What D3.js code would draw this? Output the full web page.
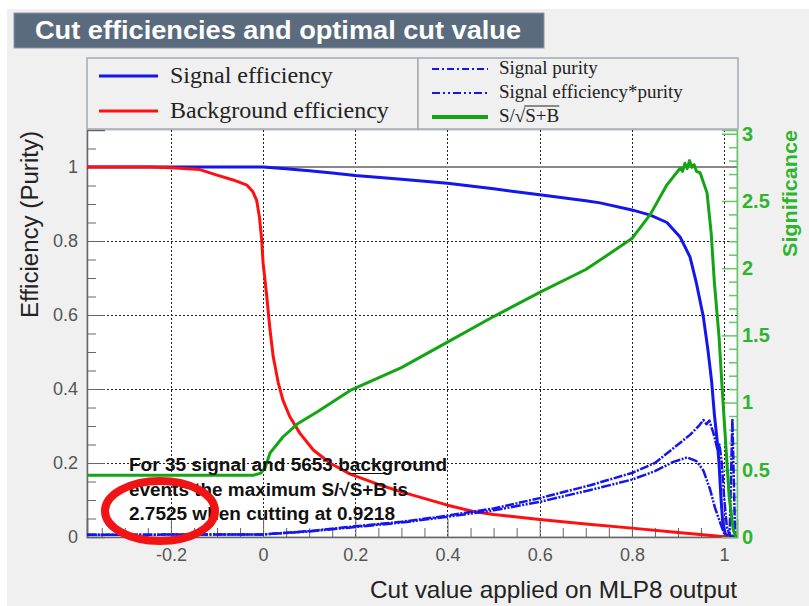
<!DOCTYPE html>
<html><head><meta charset="utf-8">
<script src="https://cdn.jsdelivr.net/npm/d3@7"></script>
<style>body{margin:0;background:#fff;}svg{display:block;}</style>
</head><body>
<script>
// ---- data ----
const xTicks = [-0.2, 0, 0.2, 0.4, 0.6, 0.8, 1];
const yTicks = [0, 0.2, 0.4, 0.6, 0.8, 1];
const sigTicks = [0, 0.5, 1, 1.5, 2, 2.5, 3];
const xTickLabels = ["-0.2", "0", "0.2", "0.4", "0.6", "0.8", "1"];
const yTickLabels = ["0", "0.2", "0.4", "0.6", "0.8", "1"];
const sigTickLabels = ["0", "0.5", "1", "1.5", "2", "2.5", "3"];

const signalEff = [[-0.382,1],[0,1],[0.05,0.995],[0.1,0.99],[0.15,0.984],[0.2,0.977],[0.3,0.967],[0.4,0.956],[0.5,0.941],[0.6,0.925],[0.7,0.909],[0.731,0.903],[0.8,0.884],[0.84,0.87],[0.876,0.85],[0.905,0.81],[0.926,0.757],[0.94,0.686],[0.955,0.595],[0.965,0.505],[0.973,0.42],[0.979,0.33],[0.985,0.26],[0.989,0.2],[0.993,0.11],[0.997,0.04],[1.003,0.006],[1.028,0]];
const backgroundEff = [[-0.382,1],[-0.245,1],[-0.2,0.998],[-0.137,0.993],[-0.1,0.978],[-0.065,0.965],[-0.035,0.951],[-0.022,0.933],[-0.014,0.91],[-0.008,0.865],[-0.003,0.803],[0,0.74],[0.008,0.65],[0.015,0.56],[0.022,0.487],[0.033,0.416],[0.043,0.37],[0.058,0.325],[0.08,0.28],[0.109,0.235],[0.145,0.2],[0.189,0.17],[0.25,0.142],[0.3,0.122],[0.4,0.086],[0.456,0.069],[0.5,0.061],[0.6,0.047],[0.7,0.035],[0.8,0.024],[0.9,0.012],[0.99,0.002],[1.028,0]];
const signalPurity = [[-0.382,0.006],[0,0.007],[0.1,0.016],[0.2,0.029],[0.3,0.041],[0.384,0.055],[0.5,0.077],[0.6,0.105],[0.71,0.14],[0.8,0.173],[0.85,0.2],[0.89,0.24],[0.926,0.276],[0.945,0.3],[0.955,0.316],[0.962,0.305],[0.968,0.315],[0.977,0.28],[0.985,0.24],[0.99,0.25],[0.995,0.2],[1.0,0.108],[1.006,0.027],[1.012,0.005],[1.018,0.32],[1.024,0]];
const effTimesPurity = [[-0.382,0.006],[0,0.007],[0.1,0.015],[0.2,0.027],[0.3,0.039],[0.384,0.052],[0.5,0.072],[0.6,0.095],[0.71,0.127],[0.8,0.155],[0.85,0.178],[0.89,0.203],[0.92,0.215],[0.94,0.205],[0.955,0.18],[0.97,0.127],[0.98,0.08],[0.992,0.037],[1.0,0.01],[1.01,0.002],[1.028,0]];
const significance = [[-0.382,0.46],[-0.02,0.46],[-0.005,0.475],[0.005,0.52],[0.015,0.625],[0.043,0.744],[0.074,0.84],[0.117,0.93],[0.189,1.09],[0.3,1.26],[0.4,1.45],[0.5,1.64],[0.6,1.82],[0.7,1.99],[0.731,2.06],[0.8,2.22],[0.84,2.4],[0.876,2.62],[0.905,2.745],[0.91,2.72],[0.915,2.78],[0.92,2.74],[0.925,2.8],[0.93,2.75],[0.935,2.77],[0.94,2.72],[0.948,2.71],[0.963,2.56],[0.972,2.26],[0.979,1.89],[0.989,1.49],[0.995,1.15],[1.004,0.67],[1.011,0.3],[1.02,0.05],[1.026,0]];

const legendLeft = ["Signal efficiency", "Background efficiency"];
const legendRight = ["Signal purity", "Signal efficiency*purity"];
const noteLines = ["For 35 signal and 5653 background", "events the maximum S/\u221AS+B is", "2.7525 when cutting at 0.9218"];

// ---- layout ----
const W = 809, H = 606;
const L = 87, R = 737, T = 130, B = 537;
const svg = d3.select("body").append("svg").attr("width", W).attr("height", H);

svg.append("rect").attr("x", 7).attr("y", 9).attr("width", W - 7).attr("height", H - 9).attr("fill", "#f0f0f0");

const font = "Liberation Sans, Arial, sans-serif";
// title
svg.append("rect").attr("x", 14).attr("y", 13).attr("width", 530).attr("height", 35)
  .attr("fill", "#5b6b7e").attr("stroke", "#8a97a6").attr("stroke-width", 1);
svg.append("text").attr("x", 35).attr("y", 39).attr("fill", "#fff")
  .attr("font-family", font).attr("font-weight", "bold").attr("font-size", 25)
  .attr("textLength", 486).attr("lengthAdjust", "spacingAndGlyphs")
  .text("Cut efficiencies and optimal cut value");

const x = d3.scaleLinear().domain([-0.382, 1.028]).range([L, R]);
const y = d3.scaleLinear().domain([0, 1.1]).range([B, T]);
const ys = d3.scaleLinear().domain([0, 3.0278]).range([B, T]);

// plot area
svg.append("rect").attr("x", L).attr("y", T).attr("width", R - L).attr("height", B - T).attr("fill", "#fff")
  .attr("stroke", "#b8bec6").attr("stroke-width", 1);

// grid
const grid = svg.append("g").attr("stroke", "#222").attr("stroke-width", 1).attr("stroke-dasharray", "2,2");
grid.selectAll("line.vx").data(xTicks).join("line")
  .attr("x1", d => Math.round(x(d)) + 0.5).attr("x2", d => Math.round(x(d)) + 0.5).attr("y1", T).attr("y2", B);
grid.selectAll("line.hy").data(yTicks.filter(d => d > 0 && d < 1)).join("line")
  .attr("y1", d => Math.round(y(d)) + 0.5).attr("y2", d => Math.round(y(d)) + 0.5).attr("x1", L).attr("x2", R);

// line at 1
svg.append("line").attr("x1", L).attr("x2", R).attr("y1", y(1)).attr("y2", y(1)).attr("stroke", "#888").attr("stroke-width", 2);

// axes
const minorX = d3.range(-35, 101, 5).map(d => d / 100).filter(d => !xTicks.some(t => Math.abs(t - d) < 1e-9));
const minorY = d3.range(5, 111, 5).map(d => d / 100).filter(d => !yTicks.some(t => Math.abs(t - d) < 1e-9));
const minorS = d3.range(1, 31, 1).map(d => d / 10).filter(d => !sigTicks.some(t => Math.abs(t - d) < 1e-9));

const xAxis = svg.append("g").attr("transform", `translate(0,${B})`)
  .call(d3.axisBottom(x).tickValues(xTicks).tickSize(-18).tickPadding(11).tickFormat((d, i) => xTickLabels[i]));
xAxis.append("g").call(d3.axisBottom(x).tickValues(minorX).tickSize(-9).tickFormat(""));
xAxis.selectAll("path.domain").attr("stroke", "#666").attr("stroke-width", 1.5);
xAxis.selectAll("line").attr("stroke", "#666");
xAxis.selectAll("text").attr("font-family", font).attr("font-size", 18).attr("fill", "#555");
xAxis.selectAll(".domain").filter(function(){return this.parentNode !== xAxis.node();}).remove();

const yAxis = svg.append("g").attr("transform", `translate(${L},0)`)
  .call(d3.axisLeft(y).tickValues(yTicks).tickSize(-18).tickPadding(9).tickFormat((d, i) => yTickLabels[i]));
yAxis.append("g").call(d3.axisLeft(y).tickValues(minorY).tickSize(-9).tickFormat(""));
yAxis.selectAll("path.domain").attr("stroke", "#666").attr("stroke-width", 1.5);
yAxis.selectAll("line").attr("stroke", "#666");
yAxis.selectAll("text").attr("font-family", font).attr("font-size", 18).attr("fill", "#555");
yAxis.selectAll(".domain").filter(function(){return this.parentNode !== yAxis.node();}).remove();

const green = "#14a514", greenAx = "#66c866", greenTxt = "#2db52d";
const sAxis = svg.append("g").attr("transform", `translate(${R},0)`)
  .call(d3.axisRight(ys).tickValues(sigTicks).tickSize(-15).tickPadding(5).tickFormat((d, i) => sigTickLabels[i]));
sAxis.append("g").call(d3.axisRight(ys).tickValues(minorS).tickSize(-8).tickFormat(""));
sAxis.selectAll("path.domain").attr("stroke", greenAx).attr("stroke-width", 1.5);
sAxis.selectAll("line").attr("stroke", greenAx).attr("stroke-width", 1.5);
sAxis.selectAll("text").attr("font-family", font).attr("font-size", 20).attr("font-weight", "bold").attr("fill", greenTxt);
sAxis.selectAll(".domain").filter(function(){return this.parentNode !== sAxis.node();}).remove();

// axis titles
svg.append("text").attr("x", R).attr("y", 598).attr("text-anchor", "end")
  .attr("font-family", font).attr("font-size", 24).attr("fill", "#222")
  .attr("textLength", 367).attr("lengthAdjust", "spacingAndGlyphs").text("Cut value applied on MLP8 output");
svg.append("text").attr("transform", `translate(38,${T + 1}) rotate(-90)`).attr("text-anchor", "end")
  .attr("font-family", font).attr("font-size", 23).attr("fill", "#222")
  .attr("textLength", 187).attr("lengthAdjust", "spacingAndGlyphs").text("Efficiency (Purity)");
svg.append("text").attr("transform", `translate(797,${T}) rotate(-90)`).attr("text-anchor", "end")
  .attr("font-family", font).attr("font-size", 21).attr("font-weight", "bold").attr("fill", greenTxt)
  .attr("textLength", 127).attr("lengthAdjust", "spacingAndGlyphs").text("Significance");

// curves
svg.append("clipPath").attr("id", "clip").append("rect").attr("x", L).attr("y", T - 2).attr("width", R - L).attr("height", B - T + 2);
const lineE = d3.line().x(d => x(d[0])).y(d => y(d[1]));
const lineS = d3.line().x(d => x(d[0])).y(d => ys(d[1]));
const g = svg.append("g").attr("clip-path", "url(#clip)").attr("fill", "none").attr("stroke-linejoin", "round");
g.append("path").attr("d", lineE(signalEff)).attr("stroke", "#1515ee").attr("stroke-width", 3);
g.append("path").attr("d", lineE(backgroundEff)).attr("stroke", "#ff1010").attr("stroke-width", 3);
g.append("path").attr("d", lineE(signalPurity)).attr("stroke", "#1515ee").attr("stroke-width", 2.5).attr("stroke-dasharray", "9,1.5,2,1.5");
g.append("path").attr("d", lineE(effTimesPurity)).attr("stroke", "#1515ee").attr("stroke-width", 2.5).attr("stroke-dasharray", "10,1.5,2,1.5,2,1.5");
g.append("path").attr("d", lineS(significance)).attr("stroke", green).attr("stroke-width", 3);

// legend
const lg = svg.append("g");
lg.append("rect").attr("x", L).attr("y", 58).attr("width", 331).attr("height", 71).attr("fill", "#f0f0f0").attr("stroke", "#a3abb5").attr("stroke-width", 1.5);
lg.append("rect").attr("x", 418).attr("y", 58).attr("width", 320).attr("height", 71).attr("fill", "#f0f0f0").attr("stroke", "#a3abb5").attr("stroke-width", 1.5);
const serif = "Liberation Serif, Times New Roman, serif";
const leftColors = ["#1515ee", "#ff1010"];
legendLeft.forEach((t, i) => {
  const yy = 76 + i * 35;
  lg.append("line").attr("x1", 99).attr("x2", 158).attr("y1", yy).attr("y2", yy).attr("stroke", leftColors[i]).attr("stroke-width", 3);
  lg.append("text").attr("x", 170).attr("y", yy + 7).attr("font-family", serif).attr("font-size", 24).attr("fill", "#222").text(t);
});
const rightDash = ["7,3,2,3", "8,3,2,3,2,3"];
legendRight.forEach((t, i) => {
  const yy = 69 + i * 24;
  lg.append("line").attr("x1", 432).attr("x2", 488).attr("y1", yy).attr("y2", yy).attr("stroke", "#1515ee").attr("stroke-width", 2).attr("stroke-dasharray", rightDash[i]);
  lg.append("text").attr("x", 499).attr("y", yy + 5).attr("font-family", serif).attr("font-size", 19).attr("fill", "#222").text(t);
});
lg.append("line").attr("x1", 432).attr("x2", 488).attr("y1", 117).attr("y2", 117).attr("stroke", green).attr("stroke-width", 4);
const st = lg.append("text").attr("x", 499).attr("y", 122).attr("font-family", serif).attr("font-size", 19).attr("fill", "#222");
st.append("tspan").text("S/\u221A");
st.append("tspan").text("S+B");
{
  const node = st.node();
  const a = node.getSubStringLength(0, 3), b = node.getSubStringLength(3, 3);
  lg.append("line").attr("x1", 499 + a - 1).attr("x2", 499 + a + b).attr("y1", 106).attr("y2", 106).attr("stroke", "#222").attr("stroke-width", 1);
}

// annotation
const noteWidths = [318, 279, 266];
const nt = svg.append("g");
noteLines.forEach((t, i) => {
  const tx = nt.append("text").attr("x", 129).attr("y", 471 + i * 24.5).attr("font-family", font).attr("font-size", 18)
    .attr("font-weight", "bold").attr("fill", "#111")
    .attr("textLength", noteWidths[i]).attr("lengthAdjust", "spacingAndGlyphs").text(t);
  if (i === 1) {
    const n = tx.node();
    const idx = t.indexOf("\u221A");
    const a = n.getSubStringLength(0, idx + 1), b = n.getSubStringLength(idx + 1, 3);
    nt.append("line").attr("x1", 129 + a - 1).attr("x2", 129 + a + b).attr("y1", 473.5).attr("y2", 473.5).attr("stroke", "#111").attr("stroke-width", 1);
  }
});
svg.append("ellipse").attr("cx", 160).attr("cy", 511).attr("rx", 55).attr("ry", 30)
  .attr("fill", "none").attr("stroke", "#f01414").attr("stroke-width", 8);
</script>
</body></html>
